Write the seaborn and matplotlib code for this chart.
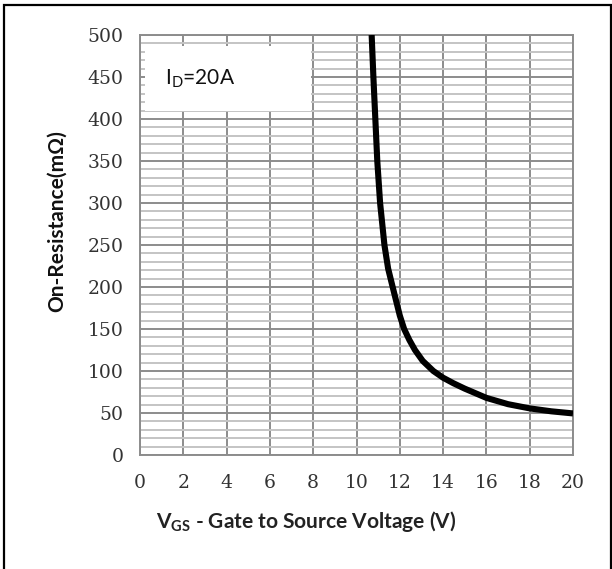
import matplotlib
matplotlib.use("Agg")
import matplotlib.pyplot as plt
import seaborn as sns
import pandas as pd
from matplotlib.patches import Rectangle
from matplotlib.ticker import MultipleLocator

# Data
vgs = [10.70, 10.78, 10.87, 10.96, 11.09, 11.29, 11.46, 11.67, 12.0, 12.2, 12.44, 12.70,
       13.06, 13.55, 14.0, 14.47, 15.0, 16.0, 17.0, 18.0, 19.0, 20.0]
rds = [500, 450, 400, 350, 300, 250, 222, 200, 166, 150, 137, 125,
       112, 100, 92, 85.5, 79, 68, 60.5, 55.5, 52, 49.5]
x_ticks = [0, 2, 4, 6, 8, 10, 12, 14, 16, 18, 20]
y_ticks = [0, 50, 100, 150, 200, 250, 300, 350, 400, 450, 500]

sns.set_style("white")
plt.rcParams['font.family'] = ['DejaVu Serif', 'Liberation Serif']
plt.rcParams['mathtext.fontset'] = 'custom'
plt.rcParams['mathtext.rm'] = 'Lato'
plt.rcParams['mathtext.bf'] = 'Lato:bold'

df = pd.DataFrame({"VGS": vgs, "RDS": rds})

fig = plt.figure(figsize=(6.12, 5.69), dpi=100)
W, H = 612, 569
ax = fig.add_axes([140 / W, (H - 455) / H, 433 / W, 420 / H])

sns.lineplot(data=df, x="VGS", y="RDS", ax=ax, color="black", lw=4.4, sort=False,
             solid_capstyle="butt", solid_joinstyle="round", zorder=5)

ax.set_xlim(0, 20)
ax.set_ylim(0, 500)
ax.set_xticks(x_ticks)
ax.set_yticks(y_ticks)
ax.yaxis.set_minor_locator(MultipleLocator(10))

major_c = "#8c8c8c"
minor_c = "#c4c4c4"
ax.grid(which="major", color=major_c, lw=1.4, zorder=1)
ax.grid(which="minor", axis="y", color=minor_c, lw=1.4, zorder=0)
ax.set_axisbelow(True)
for s in ax.spines.values():
    s.set_color(major_c)
    s.set_linewidth(1.4)

ax.tick_params(which="major", direction="out", length=5, width=1.2, color=major_c,
               labelsize=13.5, labelcolor="#333333", pad=7)
ax.tick_params(which="major", axis="x", pad=9)
ax.tick_params(which="minor", length=0)

ax.set_xlabel(r"$\mathbf{V}_{\mathbf{GS}}$ - Gate to Source Voltage (V)", family="Lato",
              fontweight="bold", fontsize=15, color="#222222", labelpad=12)
ax.xaxis.label.set_x((306 - 140) / 433)
ax.set_ylabel("On-Resistance(mΩ)", family="Lato", fontweight="bold", fontsize=15,
              color="#111111")
ax.yaxis.set_label_coords(-0.169, (455 - 221) / 420)

# Annotation box
ax.add_patch(Rectangle((0.012, 0.82), 0.383, 0.155, transform=ax.transAxes,
                       facecolor="white", edgecolor="none", zorder=3))
ax.text(0.058, 0.895, r"I$_\mathrm{D}$=20A", transform=ax.transAxes, family="Lato",
        fontsize=15, color="#111111", va="center", ha="left", zorder=4)

# Outer frame
fig.patches.append(Rectangle((4 / W, -0.05), (W - 5) / W, (H - 5) / H + 0.05,
                             transform=fig.transFigure, fill=False, edgecolor="black",
                             lw=1.6, clip_on=False))

fig.savefig("out.png", dpi=100)
